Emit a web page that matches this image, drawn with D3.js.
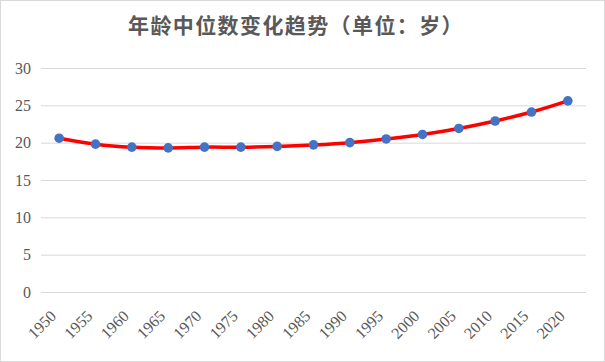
<!DOCTYPE html>
<html>
<head>
<meta charset="utf-8">
<style>
  body { margin: 0; background: #fff; }
  .tick text { font-family: "Liberation Serif", "Times New Roman", serif; }
</style>
</head>
<body>
<svg width="605" height="362"></svg>
<script src="https://d3js.org/d3.v7.min.js"></script>
<script>
var years = ["1950","1955","1960","1965","1970","1975","1980","1985","1990","1995","2000","2005","2010","2015","2020"];
var medianAge = [20.6, 19.8, 19.4, 19.3, 19.4, 19.4, 19.5, 19.7, 20.0, 20.5, 21.1, 21.9, 22.9, 24.1, 25.6];
var yTicks = [0, 5, 10, 15, 20, 25, 30];

var svg = d3.select("svg"),
    width = +svg.attr("width"),
    height = +svg.attr("height");

var margin = {left: 41, right: 19, top: 68, bottom: 70};

// chart border
svg.append("rect")
    .attr("x", 0.5).attr("y", 0.5)
    .attr("width", width - 1).attr("height", height - 1)
    .attr("fill", "#fff")
    .attr("stroke", "#d9d9d9");

svg.append("text")
    .attr("x", 296)
    .attr("y", 33)
    .attr("text-anchor", "middle")
    .attr("font-family", "'Noto Sans CJK SC', sans-serif")
    .attr("font-weight", "bold")
    .attr("font-size", 21)
    .attr("letter-spacing", 1.4)
    .attr("fill", "#595959")
    .text("年龄中位数变化趋势（单位：岁）");

var x = d3.scaleBand()
    .domain(years)
    .range([margin.left, width - margin.right]);

var y = d3.scaleLinear()
    .domain([0, 30])
    .range([height - margin.bottom, margin.top]);

// gridlines + y labels
var yAxis = svg.append("g")
    .attr("transform", "translate(" + margin.left + ",0)")
    .call(d3.axisLeft(y).tickValues(yTicks)
      .tickSize(-(width - margin.left - margin.right))
      .tickPadding(10));
yAxis.select(".domain").remove();
yAxis.selectAll("line").attr("stroke", "#d9d9d9");
yAxis.selectAll("text")
    .style("font-size", "16px")
    .attr("fill", "#595959");

// x labels
var xAxis = svg.append("g")
    .attr("transform", "translate(0," + (height - margin.bottom) + ")")
    .call(d3.axisBottom(x).tickSize(0).tickPadding(0));
xAxis.select(".domain").remove();
xAxis.selectAll("text")
    .style("font-size", "16px")
    .attr("fill", "#595959")
    .attr("text-anchor", "end")
    .attr("dy", null)
    .attr("transform", "translate(-2,25) rotate(-45)");

var pts = years.map(function(d, i) { return [x(d) + x.bandwidth() / 2, y(medianAge[i])]; });

svg.append("path")
    .datum(pts)
    .attr("fill", "none")
    .attr("stroke", "#ff0000")
    .attr("stroke-width", 3.5)
    .attr("stroke-linecap", "round")
    .attr("d", d3.line().curve(d3.curveCatmullRom.alpha(0.5)));

svg.selectAll(".pt")
    .data(pts)
    .enter().append("circle")
    .attr("class", "pt")
    .attr("cx", function(d) { return d[0]; })
    .attr("cy", function(d) { return d[1]; })
    .attr("r", 4.8)
    .attr("fill", "#4472c4");
</script>
</body>
</html>
